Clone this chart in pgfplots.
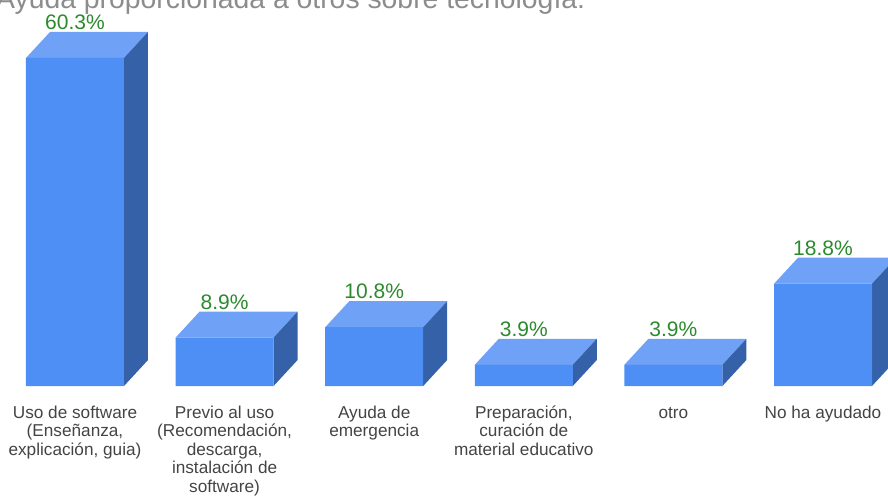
\documentclass[border=0pt]{standalone}
\usepackage{pgfplots}
\usepackage{pgfplotstable}
\pgfplotsset{compat=1.18}
\usepackage{fontspec}
\setmainfont{Liberation Sans}
\definecolor{frontc}{HTML}{4D8FF5}
\definecolor{topc}{HTML}{6FA1F7}
\definecolor{sidec}{HTML}{3461A8}
\definecolor{valc}{HTML}{2B8A2E}
\definecolor{catc}{HTML}{444444}
\definecolor{titlec}{HTML}{8C8C8C}
\pgfplotstableread{
idx val lab
0 60.3 60.3
1 8.9 8.9
2 10.8 10.8
3 3.9 3.9
4 3.9 3.9
5 18.8 18.8
}\datatable
\newcommand{\depthfaces}[2]{%
  \pgfmathsetmacro{\xl}{#1-0.3275}%
  \pgfmathsetmacro{\xr}{#1+0.3275}%
  \pgfmathsetmacro{\xrb}{#1+0.3275+0.1604}%
  \pgfmathsetmacro{\xlb}{#1-0.3275+0.1604}%
  \pgfmathsetmacro{\yb}{#2+4.78}%
  \edef\temp{\noexpand\addplot[fill=topc,draw=none,forget plot] coordinates {(\xl,#2) (\xlb,\yb) (\xrb,\yb) (\xr,#2)};
  \noexpand\addplot[fill=sidec,draw=none,forget plot] coordinates {(\xr,0) (\xrb,4.78) (\xrb,\yb) (\xr,#2)};}%
  \temp
}
\newcommand{\fl}{\rule{0pt}{16pt}}
\begin{document}
\begin{tikzpicture}[x=1pt,y=1pt]
\clip (0,0) rectangle (888,495);
\useasboundingbox (0,0) rectangle (888,495);
\node[anchor=base west,inner sep=0pt,font=\fontsize{28.35}{28}\selectfont,text=titlec] at (-4,486) {Ayuda proporcionada a otros sobre tecnología:};
\begin{axis}[
  at={(0pt,109pt)},anchor=south west,
  scale only axis,width=888pt,height=380.8pt,
  xmin=-0.5013,xmax=5.4345,ymin=0,ymax=70,
  axis line style={draw=none},
  tick style={draw=none},
  ytick=\empty,
  xtick={0,1,2,3,4,5},
  xticklabels={
    {\fl Uso de software\\(Enseñanza,\\explicación, guia)},
    {\fl Previo al uso\\(Recomendación,\\descarga,\\instalación de\\software)},
    {\fl Ayuda de\\emergencia},
    {\fl Preparación,\\curación de\\material educativo},
    {\fl otro},
    {\fl No ha ayudado}},
  x tick label style={align=center,font=\fontsize{17.2}{18.5}\selectfont,text=catc,anchor=north,yshift=-12.7pt},
  clip=false,
]
\depthfaces{0}{60.3}
\depthfaces{1}{8.9}
\depthfaces{2}{10.8}
\depthfaces{3}{3.9}
\depthfaces{4}{3.9}
\depthfaces{5}{18.8}
\addplot[ybar,bar width=98pt,fill=frontc,draw=none,forget plot] table[x=idx,y=val] {\datatable};
\addplot[only marks,mark=none,
  point meta=explicit symbolic,
  nodes near coords={\pgfplotspointmeta\%},
  nodes near coords style={anchor=south,inner sep=0pt,yshift=2pt,font=\fontsize{21}{21}\selectfont,text=valc},
] table[x=idx,y expr=\thisrow{val}+4.78,meta=lab] {\datatable};
\end{axis}
\end{tikzpicture}
\end{document}
